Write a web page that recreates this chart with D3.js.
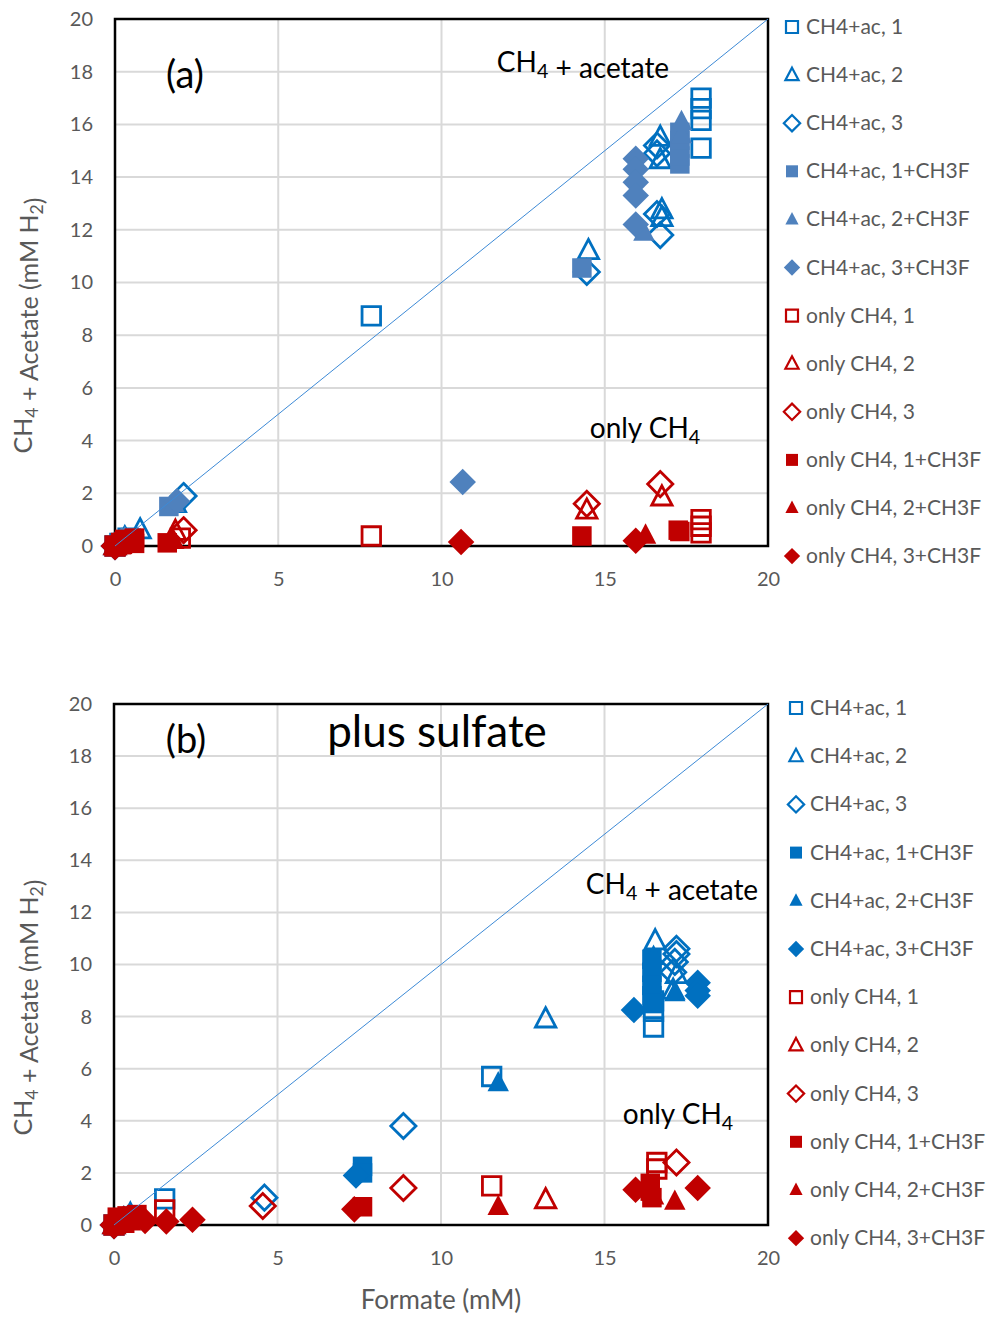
<!DOCTYPE html>
<html>
<head>
<meta charset="utf-8">
<script src="https://cdn.jsdelivr.net/npm/d3@7"></script>
<style>
  body { margin: 0; background: #fff; }
  text { font-family: Lato, "Open Sans", sans-serif; }
</style>
</head>
<body>
<div id="chart"></div>
<script>
// series names, in Excel draw order
const seriesNames = ["CH4+ac, 1", "CH4+ac, 2", "CH4+ac, 3", "CH4+ac, 1+CH3F", "CH4+ac, 2+CH3F", "CH4+ac, 3+CH3F",
  "only CH4, 1", "only CH4, 2", "only CH4, 3", "only CH4, 1+CH3F", "only CH4, 2+CH3F", "only CH4, 3+CH3F"];

const yTicks = [0, 2, 4, 6, 8, 10, 12, 14, 16, 18, 20];
const xTicks = [0, 5, 10, 15, 20];

// panel (a) : [formate, CH4+acetate]
const a_ac1 = [[0, 0], [0.15, 0.1], [0.4, 0.3], [7.85, 8.73], [17.95, 17.0], [17.95, 16.6], [17.95, 16.15], [17.95, 15.1]];
const a_ac2 = [[0, 0], [0.3, 0.3], [0.77, 0.6], [1.85, 1.6], [14.5, 11.2], [16.7, 15.5], [16.7, 14.65], [16.75, 12.75], [16.75, 12.45]];
const a_ac3 = [[0, 0], [0.3, 0.2], [2.1, 1.9], [14.45, 10.4], [16.6, 15.2], [16.6, 14.9], [16.6, 12.6], [16.7, 11.8]];
const a_ac1f = [[0, 0], [0.2, 0.1], [0.5, 0.3], [1.65, 1.5], [14.3, 10.55], [17.3, 14.5], [17.3, 14.8], [17.3, 15.1], [17.3, 15.4], [17.3, 15.7]];
const a_ac2f = [[0, 0], [0.3, 0.3], [1.8, 1.6], [16.2, 11.9], [17.35, 15.6], [17.35, 16.1]];
const a_ac3f = [[0, 0], [0.2, 0.2], [1.9, 1.7], [10.65, 2.43], [15.95, 14.7], [15.95, 14.3], [15.95, 13.8], [15.95, 13.3], [15.95, 12.2]];
const a_ch1 = [[0, 0], [0.2, 0.1], [2.0, 0.3], [7.85, 0.38], [17.95, 1.0], [17.95, 0.75], [17.95, 0.5]];
const a_ch2 = [[0, 0], [0.3, 0.1], [1.85, 0.55], [14.45, 1.35], [16.75, 1.85]];
const a_ch3 = [[0, 0], [2.1, 0.6], [14.45, 1.6], [16.7, 2.35]];
const a_ch1f = [[0, 0], [0.2, 0.05], [0.3, 0.25], [0.4, 0.15], [0.6, 0.1], [0.6, 0.3], [1.6, 0.12], [14.3, 0.38], [17.25, 0.6], [17.3, 0.55]];
const a_ch2f = [[0, 0], [1.8, 0.2], [16.25, 0.4]];
const a_ch3f = [[0, 0], [0.3, 0.1], [10.6, 0.15], [15.95, 0.2]];

// panel (b) : plus sulfate
const b_ac1 = [[0, 0], [0.2, 0.2], [1.55, 1.0], [11.55, 5.7], [16.5, 8.6], [16.5, 8.2], [16.5, 7.6]];
const b_ac2 = [[0, 0], [0.5, 0.4], [13.2, 7.9], [16.55, 10.9], [17.1, 9.0], [17.2, 9.6]];
const b_ac3 = [[0, 0], [0.3, 0.2], [4.6, 1.05], [8.85, 3.8], [17.2, 10.6], [17.2, 10.4], [17.15, 10.1], [17.1, 9.7]];
const b_ac1f = [[0, 0], [0.2, 0.1], [7.6, 2.25], [7.6, 2.0], [16.45, 10.2], [16.45, 9.7], [16.45, 9.2], [16.45, 8.8], [16.5, 8.5]];
const b_ac2f = [[0, 0], [0.4, 0.3], [11.75, 5.45], [16.5, 10.3], [17.15, 8.9]];
const b_ac3f = [[0, 0], [0.2, 0.1], [7.4, 1.9], [15.9, 8.25], [17.85, 9.3], [17.85, 9.0], [17.85, 8.8]];
const b_ch1 = [[0, 0], [0.3, 0.1], [1.55, 0.58], [11.55, 1.5], [16.6, 2.4], [16.6, 2.15]];
const b_ch2 = [[0, 0], [0.3, 0.2], [13.2, 0.96]];
const b_ch3 = [[0, 0], [4.55, 0.73], [8.85, 1.42], [17.2, 2.4]];
const b_ch1f = [[0, 0], [0.1, 0.3], [0.3, 0.1], [0.4, 0.35], [0.6, 0.2], [0.7, 0.4], [7.6, 0.7], [16.4, 1.6], [16.4, 1.3], [16.45, 1.05]];
const b_ch2f = [[0, 0], [0.5, 0.1], [11.75, 0.7], [16.5, 1.1], [17.15, 0.9]];
const b_ch3f = [[0, 0], [0.95, 0.15], [1.6, 0.13], [2.4, 0.2], [7.35, 0.6], [15.95, 1.35], [17.85, 1.42]];

const shapes = ["square", "triangle", "diamond"];
const blue = "#0070c0", blueA = "#4f81bd", red = "#c00000";

const svg = d3.select("#chart").append("svg")
  .attr("width", 1000)
  .attr("height", 1318);

function shapePath(shape, s) {
  if (shape == "square") {
    let h = s / 2;
    return `M${-h},${-h}H${h}V${h}H${-h}Z`;
  } else if (shape == "triangle") {
    let w = s * 0.55, t = s * 0.62, b = s * 0.42;
    return `M0,${-t}L${w},${b}L${-w},${b}Z`;
  } else {
    let d = s * 0.68;
    return `M0,${-d}L${d},0L0,${d}L${-d},0Z`;
  }
}

function subText(sel, parts, bigSize) {
  // parts: [text, sub] pairs
  parts.forEach(p => {
    sel.append("tspan").text(p[0]);
    if (p[1]) sel.append("tspan").attr("font-size", bigSize * 0.7).attr("dy", bigSize * 0.22).text(p[1]);
    if (p[1]) sel.append("tspan").attr("dy", -bigSize * 0.22).text("");
  });
}

function drawPanel(cfg) {
  const x = d3.scaleLinear().domain([0, 20]).range([cfg.left, cfg.right]);
  const y = d3.scaleLinear().domain([0, 20]).range([cfg.bottom, cfg.top]);
  const g = svg.append("g");

  // grid
  g.selectAll("line.hg").data(yTicks.slice(1, -1)).join("line")
    .attr("x1", cfg.left).attr("x2", cfg.right)
    .attr("y1", d => y(d)).attr("y2", d => y(d))
    .attr("stroke", "#d9d9d9").attr("stroke-width", 2);
  g.selectAll("line.vg").data(xTicks.slice(1, -1)).join("line")
    .attr("y1", cfg.top).attr("y2", cfg.bottom)
    .attr("x1", d => x(d)).attr("x2", d => x(d))
    .attr("stroke", "#d9d9d9").attr("stroke-width", 2);

  // plot frame
  g.append("rect")
    .attr("x", cfg.left).attr("y", cfg.top)
    .attr("width", cfg.right - cfg.left).attr("height", cfg.bottom - cfg.top)
    .attr("fill", "none").attr("stroke", "#000").attr("stroke-width", 2.5);

  // tick labels
  const ya = g.append("g").attr("transform", `translate(${cfg.left - 10},0)`)
    .call(d3.axisLeft(y).tickValues(yTicks).tickSize(0).tickPadding(12));
  const xa = g.append("g").attr("transform", `translate(0,${cfg.bottom + 14})`)
    .call(d3.axisBottom(x).tickValues(xTicks).tickSize(0).tickPadding(12));
  [ya, xa].forEach(a => {
    a.select(".domain").remove();
    a.selectAll("text").attr("font-size", 20).attr("fill", "#595959")
      .style("font-family", "Lato, sans-serif");
  });

  // y title
  const yt = g.append("text")
    .attr("transform", `translate(32,${(cfg.top + cfg.bottom) / 2 + 43}) rotate(-90)`)
    .attr("text-anchor", "middle").attr("font-size", 25).attr("fill", "#595959");
  subText(yt, [["CH", "4"], [" + Acetate (mM H", "2"], [")", null]], 25);

  // markers
  cfg.series.forEach((pts, i) => {
    const shape = shapes[i % 3];
    const filled = Math.floor(i / 3) % 2 == 1;
    const col = i < 6 ? (filled ? cfg.blueFill : blue) : red;
    g.append("g").selectAll("path").data(pts).join("path")
      .attr("transform", d => `translate(${x(d[0])},${y(d[1])})`)
      .attr("d", shapePath(shape, filled ? 19.5 : 18.5))
      .attr("fill", filled ? col : "none")
      .attr("stroke", filled ? "none" : col)
      .attr("stroke-width", 2.8);
  });

  // 1:1 line
  g.append("line")
    .attr("x1", x(0)).attr("y1", y(0)).attr("x2", x(20)).attr("y2", y(20))
    .attr("stroke", "#3d8ad6").attr("stroke-width", 1);

  // legend
  seriesNames.forEach((name, i) => {
    const shape = shapes[i % 3];
    const filled = Math.floor(i / 3) % 2 == 1;
    const col = i < 6 ? (filled ? cfg.blueFill : blue) : red;
    const ly = cfg.legendTop + i * cfg.legendStep;
    g.append("path")
      .attr("transform", `translate(${cfg.legendX},${ly})`)
      .attr("d", shapePath(shape, 12))
      .attr("fill", filled ? col : "none")
      .attr("stroke", filled ? "none" : col)
      .attr("stroke-width", 2.2);
    g.append("text")
      .attr("x", cfg.legendX + 14).attr("y", ly + 7)
      .attr("font-size", 21).attr("fill", "#595959")
      .text(name);
  });

  // annotations
  cfg.notes.forEach(n => {
    const t = g.append("text").attr("x", n.x).attr("y", n.y)
      .attr("text-anchor", "middle").attr("font-size", n.size).attr("fill", "#000");
    subText(t, n.parts, n.size);
  });
  return { x, y };
}

drawPanel({
  left: 115, right: 768, top: 19, bottom: 546,
  blueFill: blueA,
  series: [a_ac1, a_ac2, a_ac3, a_ac1f, a_ac2f, a_ac3f, a_ch1, a_ch2, a_ch3, a_ch1f, a_ch2f, a_ch3f],
  legendX: 792, legendTop: 27, legendStep: 48.1,
  notes: [
    { x: 185, y: 88, size: 38, parts: [["(a)", null]] },
    { x: 583, y: 72, size: 28, parts: [["CH", "4"], [" + acetate", null]] },
    { x: 645, y: 438, size: 28, parts: [["only CH", "4"]] }
  ]
});

drawPanel({
  left: 114, right: 768, top: 704, bottom: 1225,
  blueFill: blue,
  series: [b_ac1, b_ac2, b_ac3, b_ac1f, b_ac2f, b_ac3f, b_ch1, b_ch2, b_ch3, b_ch1f, b_ch2f, b_ch3f],
  legendX: 796, legendTop: 708, legendStep: 48.2,
  notes: [
    { x: 186, y: 753, size: 38, parts: [["(b)", null]] },
    { x: 437, y: 747, size: 44, parts: [["plus sulfate", null]] },
    { x: 672, y: 894, size: 28, parts: [["CH", "4"], [" + acetate", null]] },
    { x: 678, y: 1124, size: 28, parts: [["only CH", "4"]] }
  ]
});

// x title
svg.append("text")
  .attr("x", 441).attr("y", 1309)
  .attr("text-anchor", "middle").attr("font-size", 26).attr("fill", "#595959")
  .text("Formate (mM)");
</script>
</body>
</html>
